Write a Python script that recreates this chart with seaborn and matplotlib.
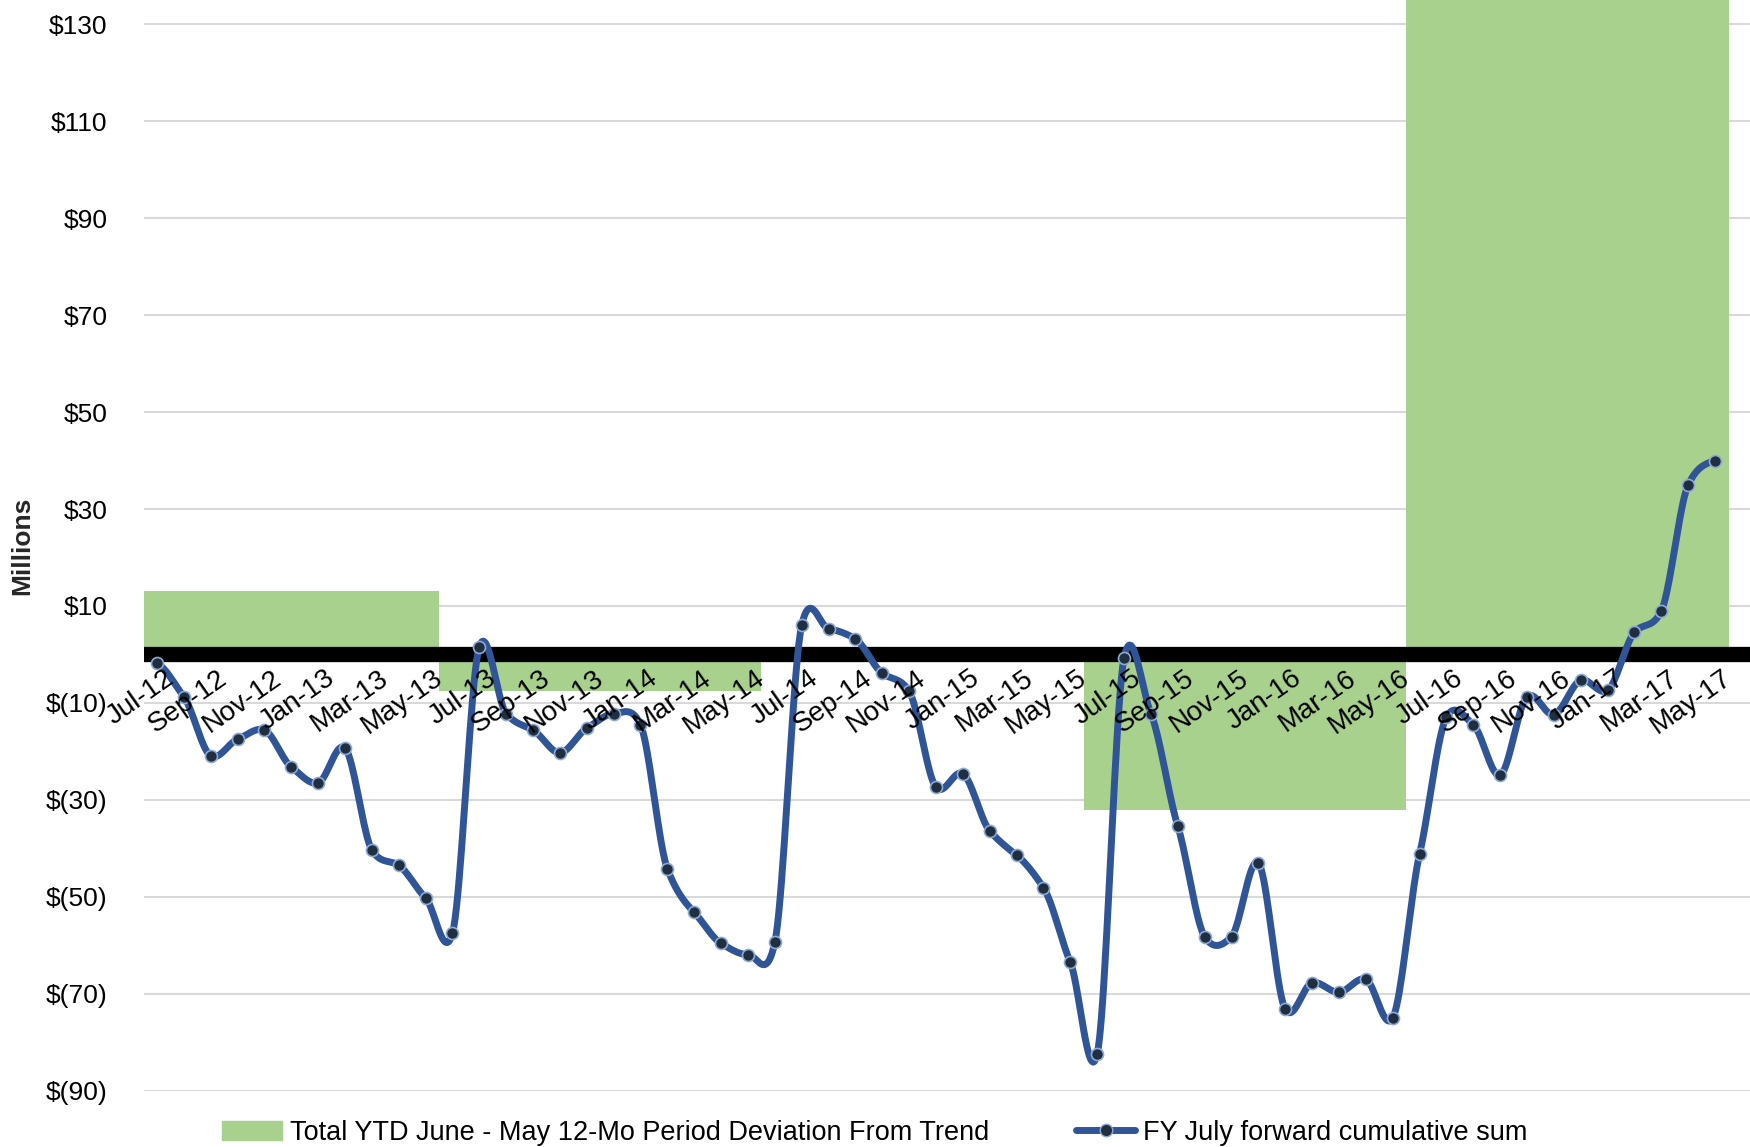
import numpy as np
import matplotlib
matplotlib.use("Agg")
import matplotlib.pyplot as plt
import seaborn as sns
from matplotlib.lines import Line2D
from matplotlib.patches import Patch

months = [f"{m}-{y}" for y, ms in [("12", ["Jul", "Aug", "Sep", "Oct", "Nov", "Dec"]),
                                     ("13", ["Jan", "Feb", "Mar", "Apr", "May", "Jun", "Jul", "Aug", "Sep", "Oct", "Nov", "Dec"]),
                                     ("14", ["Jan", "Feb", "Mar", "Apr", "May", "Jun", "Jul", "Aug", "Sep", "Oct", "Nov", "Dec"]),
                                     ("15", ["Jan", "Feb", "Mar", "Apr", "May", "Jun", "Jul", "Aug", "Sep", "Oct", "Nov", "Dec"]),
                                     ("16", ["Jan", "Feb", "Mar", "Apr", "May", "Jun", "Jul", "Aug", "Sep", "Oct", "Nov", "Dec"]),
                                     ("17", ["Jan", "Feb", "Mar", "Apr", "May"])] for m in ms]

cumsum = [-1.8, -8.7, -20.9, -17.5, -15.6, -23.2, -26.5, -19.3, -40.3, -43.5, -50.2, -57.5,
          1.6, -12.2, -15.6, -20.3, -15.2, -12.2, -14.5, -44.2, -53.2, -59.6, -61.9, -59.4,
          6.0, 5.3, 3.2, -3.9, -7.6, -27.4, -24.6, -36.4, -41.4, -48.1, -63.5, -82.4,
          -0.7, -12.2, -35.4, -58.2, -58.2, -43.0, -73.2, -67.7, -69.7, -67.0, -75.0, -41.2,
          -12.9, -14.5, -24.9, -8.7, -12.4, -5.3, -7.4, 4.6, 9.0, 35.0, 40.0]

# 12-month (June-May) period deviations: first month index, last month index, value
period_start = [0, 11, 23, 35, 47]
period_end = [10, 22, 34, 46, 58]
period_value = [13.0, -7.6, 0.0, -32.0, 135.0]

deviation = np.zeros(len(months))
for s, e, v in zip(period_start, period_end, period_value):
    deviation[s:e + 1] = v

def smooth(y, n=20, k=0.38):
    # cardinal spline, close to Excel's smoothed line
    y = np.asarray(y, float)
    p = np.concatenate([[y[0]], y, [y[-1]]])
    m = k * (p[2:] - p[:-2])
    t = np.linspace(0, 1, n, endpoint=False)
    h00 = 2 * t**3 - 3 * t**2 + 1
    h10 = t**3 - 2 * t**2 + t
    h01 = -2 * t**3 + 3 * t**2
    h11 = t**3 - t**2
    xs, ys = [], []
    for i in range(len(y) - 1):
        ys.append(h00 * y[i] + h10 * m[i] + h01 * y[i + 1] + h11 * m[i + 1])
        xs.append(i + t)
    xs.append([len(y) - 1]); ys.append([y[-1]])
    return np.concatenate(xs), np.concatenate(ys)

sns.set_style("white")
plt.rcParams["font.family"] = ["Liberation Sans", "DejaVu Sans"]
plt.rcParams["text.color"] = "black"
fs = 19

fig = plt.figure(figsize=(17.5, 11.47), dpi=100)
ax = fig.add_axes([0.082, 0.049, 0.918, 0.951])

x = np.arange(len(months))
ax.bar(x, deviation, width=1.0, color="#A9D18E", linewidth=0, zorder=2)
ax.axhline(0, color="black", lw=11, zorder=3)

sx, sy = smooth(cumsum)
ax.plot(sx, sy, color="#2F5597", lw=5, zorder=4)
sns.scatterplot(x=x, y=cumsum, ax=ax, color="#1F2F3F", edgecolor="#8FA9D6", s=75,
                linewidth=1.2, zorder=5, legend=False)

ax.set_xlim(-0.5, 59.3)
ax.set_ylim(-90, 135)
ticks = list(range(-90, 131, 20))
ax.set_yticks(ticks)
ax.set_yticklabels([f"${v}" if v >= 0 else f"$({-v})" for v in ticks], fontsize=fs, color="black")
ax.tick_params(axis="y", length=0, pad=26)
ax.grid(axis="y", color="#D9D9D9", lw=1.5, zorder=0)
ax.set_xticks([])
ax.set_xlabel("")
for s in ax.spines.values():
    s.set_visible(False)
for i in range(0, len(months), 2):
    ax.text(i + 0.25, -2.2, months[i], rotation=35, ha="right", va="top", fontsize=20,
            rotation_mode="anchor", zorder=6)

ax.set_ylabel("Millions", fontsize=fs, fontweight="bold", labelpad=8)

handles = [Patch(color="#A9D18E"),
           Line2D([], [], color="#2F5597", lw=5, marker="o", markersize=9,
                  markerfacecolor="#1F2F3F", markeredgecolor="#8FA9D6")]
fig.legend(handles, ["Total YTD June - May 12-Mo Period Deviation From Trend",
                     "FY July forward cumulative sum"],
           loc="lower center", bbox_to_anchor=(0.5, -0.02), ncol=2, frameon=False,
           fontsize=19.5, handlelength=2.2, columnspacing=3.2, handletextpad=0.3)

fig.savefig("out.png", dpi=100)
